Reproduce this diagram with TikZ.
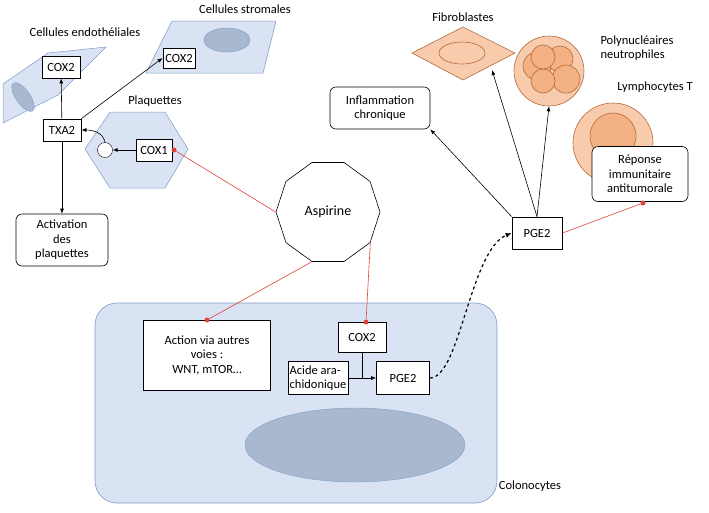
\documentclass[tikz,border=0pt]{standalone}
\usepackage{fontspec}
\setmainfont{Carlito}
\usetikzlibrary{shapes.geometric,arrows.meta}
\definecolor{lb}{HTML}{DAE3F3}
\definecolor{lbd}{HTML}{7F9CC8}
\definecolor{nuc}{HTML}{A9B8CF}
\definecolor{or}{HTML}{F8CBAD}
\definecolor{ord}{HTML}{B4693A}
\definecolor{ori}{HTML}{F4B183}
\definecolor{rd}{HTML}{E0413A}
\begin{document}
\begin{tikzpicture}[x=1pt,y=-1pt,font=\fontsize{12.5}{14.5}\selectfont,
 box/.style={draw,fill=white,line width=0.8pt,align=center,inner sep=2pt},
 rbox/.style={draw,fill=white,rounded corners=6pt,align=center,line width=0.6pt},
 arr/.style={-{Latex[length=5pt,width=4pt]},line width=0.6pt},
 red/.style={draw=rd,line width=0.6pt},
 dot/.style={circle,fill=rd,inner sep=0pt,minimum size=5pt},
 cell/.style={fill=lb,draw=lbd,line width=0.5pt},
 ocell/.style={fill=or,draw=ord,line width=0.6pt}]
\useasboundingbox (0,0) rectangle (709,512);
% endothelial
\node at (85,32) {Cellules endothéliales};
\path[cell] (3,84) -- (48,53) -- (106,47) -- (58,95) -- (3,123) -- cycle;
\path[fill=nuc,draw=lbd] (23,97) ellipse [x radius=7, y radius=17, rotate=35];
\node[box,minimum width=38,minimum height=22] (cox2e) at (61,67) {COX2};
% stromal
\node at (245,9) {Cellules stromales};
\path[cell] (172,21) -- (276,21) -- (263,73) -- (146,73) -- cycle;
\path[fill=nuc,draw=lbd] (227,40) ellipse [x radius=23, y radius=12];
\node[box,minimum width=32,minimum height=20] (cox2s) at (179,58) {COX2};
% platelets
\node at (155,101) {Plaquettes};
\path[cell] (85,149) -- (110,112) -- (165,112) -- (188,149) -- (165,188) -- (110,188) -- cycle;
\node[circle,draw,fill=white,minimum size=15pt,inner sep=0pt] (circ) at (105,150) {};
\node[box,minimum width=36,minimum height=22] (cox1) at (154,150) {COX1};
\node[box,minimum width=38,minimum height=22] (txa2) at (62,130) {TXA2};
\node[rbox,minimum width=92,minimum height=52] (act) at (62,240) {Activation\\des\\plaquettes};
\draw[arr] (cox1) -- (circ);
\draw[arr] (circ.north) to[out=100,in=0] (txa2.east);
\draw[arr] (txa2) -- (cox2e);
\draw[arr] (txa2.north east) -- (cox2s.west);
\draw[arr] (txa2) -- (act);
% colonocytes
\path[fill=lb,draw=lbd,line width=0.6pt,rounded corners=22pt] (95,303) rectangle (497,503);
\node at (530,486) {Colonocytes};
\path[fill=nuc,draw=lbd] (355,445) ellipse [x radius=110, y radius=37];
\node[box,minimum width=127,minimum height=70] (act2) at (207,355) {Action via autres\\voies :\\WNT, mTOR…};
\node[box,minimum width=48,minimum height=30] (cox2c) at (362,337) {COX2};
\node[draw,fill=white,line width=0.5pt,align=left,inner sep=1.5pt,minimum height=33] (ac) at (318,378) {Acide ara-\\chidonique};
\node[box,minimum width=53,minimum height=33] (pgc) at (403,378) {PGE2};
\coordinate (j) at (cox2c.south |- ac.east);
\draw[line width=0.6pt] (cox2c.south) -- (j);
\draw[arr] (ac.east) -- (pgc.west);
% aspirin
\node[regular polygon,regular polygon sides=10,draw,fill=white,minimum size=104pt,inner sep=0pt,line width=0.6pt] (asp) at (328,212) {\fontsize{14}{16}\selectfont Aspirine};
\node[dot] (d1) at (174,150) {};
\node[dot] (d2) at (207,320) {};
\node[dot] (d3) at (366,322) {};
\draw[red] (d1) -- (asp.corner 4);
\draw[red] (d2) -- (asp.corner 6);
\draw[red] (d3) -- (asp.corner 8);
% right side
\node[box,minimum width=50,minimum height=32] (pge) at (537,233) {PGE2};
\draw[dashed,line width=1.2pt,-{Latex[length=6pt,width=5pt]}] (pgc.east) .. controls (460,378) and (470,250) .. (pge.west);
\node[rbox,minimum width=100,minimum height=42] (infl) at (380,108) {Inflammation\\chronique};
\draw[arr] (pge.north west) -- (infl.south east);
\node at (463,17) {Fibroblastes};
\path[ocell] (412,53) -- (463,27) -- (515,53) -- (463,80) -- cycle;
\path[ocell] (462,53) ellipse [x radius=23, y radius=11];
\coordinate (fib) at (492,70);
\node[circle,ocell,minimum size=70pt,inner sep=0pt] (neu) at (549,71) {};
\path[ocell,fill=ori] (537,66) circle (14);
\path[ocell,fill=ori] (560,59) circle (13);
\path[ocell,fill=ori] (566,79) circle (14);
\path[ocell,fill=ori] (543,81) circle (12);
\path[ocell,fill=ori] (543,57) circle (12);
\node[align=left] at (637,48) {Polynucléaires\\neutrophiles};
\node at (655,87) {Lymphocytes T};
\path[ocell] (613,143) circle (40);
\path[ocell,fill=ori] (613,136) circle (23);
\draw[arr] (pge.north) -- (fib);
\draw[arr] (pge.north) -- (neu.south);
\node[rbox,minimum width=96,minimum height=55] (rep) at (640,174) {Réponse\\immunitaire\\antitumorale};
\node[dot] (d4) at (643,203) {};
\draw[red] (pge.east) -- (d4);
\end{tikzpicture}
\end{document}
